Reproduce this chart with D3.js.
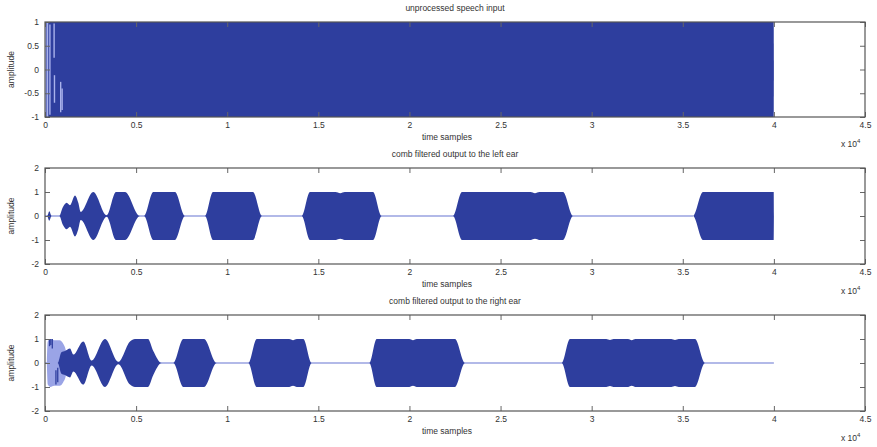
<!DOCTYPE html>
<html>
<head>
<meta charset="utf-8">
<script src="https://cdn.jsdelivr.net/npm/d3@7"></script>
<style>
  body { margin: 0; background: #fff; }
  text { font-family: "Liberation Sans", Arial, sans-serif; fill: #333; }
</style>
</head>
<body>
<div id="chart"></div>
<script>
// Data (time in samples, amplitude envelope)
//= ================================
var xTicks = [0, 5000, 10000, 15000, 20000, 25000, 30000, 35000, 40000, 45000];
var inputTicksY = [-1, -0.5, 0, 0.5, 1];
var earTicksY = [-2, -1, 0, 1, 2];
var titles = ["unprocessed speech input", "comb filtered output to the left ear", "comb filtered output to the right ear"];
var xLabel = "time samples";
var yLabel = "amplitude";

// speech input fills the whole +-1 band until 4e4
var inputEnvelope = [[0, 1], [39990, 1], [40000, 0]];
// lighter streaks near the start of the input: [t, low, high]
var inputStreaks = [[40, -1, 1], [140, -1, 1], [270, -0.95, 0.95], [500, 0.25, 0.97], [520, -0.7, -0.12], [860, -0.9, -0.26], [940, -0.85, -0.4]];

var leftEnvelope = [[0, 0], [120, 0], [236, 0.2], [360, 0], [785, 0], [971, 0.35], [1191, 0.55], [1372, 0.45],
    [1646, 0.85], [1827, 0.55], [1959, 0.17], [2651, 1], [3386, 0.03], [3896, 1], [4390, 1], [5213, 0],
    [5433, 0], [5943, 1], [7134, 1], [7683, 0], [8780, 0], [9220, 1], [11415, 1], [11909, 0],
    [14087, 0], [14543, 1], [15950, 1], [16200, 0.95], [16450, 1], [18000, 1], [18478, 0],
    [22390, 0], [22884, 1], [26650, 1], [26890, 0.95], [27130, 1], [28427, 1], [28976, 0],
    [35561, 0], [36110, 1], [39990, 1], [40000, 0]];

var rightEnvelope = [[0, 0], [700, 0], [900, 0.45], [1098, 0.5], [1372, 0.6], [1553, 0.35], [2102, 0.9],
    [2563, 0.1], [3293, 1], [4023, 0.05], [4665, 0.9], [4939, 1], [5652, 1], [5943, 0.5], [6404, 0],
    [7041, 0], [7590, 1], [8726, 1], [9423, 0], [11157, 0], [11618, 1], [13400, 1], [13610, 0.95],
    [13820, 1], [14175, 1], [14636, 0], [17797, 0], [18203, 1], [19990, 1], [20195, 0.95], [20400, 1],
    [22500, 1], [23049, 0], [28355, 0], [28811, 1], [30800, 1], [31006, 0.96], [31200, 1], [32000, 1],
    [32196, 0.95], [32400, 1], [34370, 1], [34573, 0.96], [34780, 1], [35671, 1], [36220, 0], [40000, 0]];
// pale noisy onset of the right ear signal
var rightNoise = [[100, 0], [150, 0.9], [300, 1], [500, 0.95], [800, 0.95], [1000, 0.8], [1150, 0.5], [1200, 0]];
var rightStreaks = [[250, 0.7, 1], [320, 0.75, 1], [400, 0.6, 1], [600, -0.9, -0.3], [700, -0.8, -0.2]];

// Step 1: Set up our chart
//= ================================
var svgWidth = 877;
var svgHeight = 447;
var plotLeft = 45;
var plotRight = 865;
var panels = [
    { top: 22, height: 95, ticksY: inputTicksY, dom: [-1, 1] },
    { top: 168, height: 96, ticksY: earTicksY, dom: [-2, 2] },
    { top: 315, height: 96, ticksY: earTicksY, dom: [-2, 2] }
];

var dark = "#2e3e9e";
var pale = "#9aa4e6";
var zeroColor = "#6675d2";

var svg = d3.select("#chart")
    .append("svg")
    .attr("width", svgWidth)
    .attr("height", svgHeight);

var xScale = d3.scaleLinear()
    .domain([0, 45000])
    .range([plotLeft, plotRight]);

var fmt = function(d) { return String(d); };

panels.forEach(function(p, i) {
    var yScale = d3.scaleLinear()
        .domain(p.dom)
        .range([p.top + p.height, p.top]);

    var g = svg.append("g").attr("class", "panel");

    var area = d3.area()
        .x(function(d) { return xScale(d[0]); })
        .y0(function(d) { return yScale(-d[1]); })
        .y1(function(d) { return yScale(d[1]); })
        .curve(d3.curveMonotoneX);

    if (i === 0) {
        g.append("path").datum(inputEnvelope)
            .attr("d", area.curve(d3.curveLinear))
            .attr("fill", dark);
        g.selectAll(".streak").data(inputStreaks).enter()
            .append("line")
            .attr("x1", function(d) { return xScale(d[0]); })
            .attr("x2", function(d) { return xScale(d[0]); })
            .attr("y1", function(d) { return yScale(d[1]); })
            .attr("y2", function(d) { return yScale(d[2]); })
            .attr("stroke", "#a9b2ec")
            .attr("stroke-width", 1.4);
    } else {
        var env = i === 1 ? leftEnvelope : rightEnvelope;
        var last = i === 1 ? 35561 : 40000;
        // thin zero line between bursts
        g.append("line")
            .attr("x1", xScale(0)).attr("x2", xScale(last))
            .attr("y1", yScale(0)).attr("y2", yScale(0))
            .attr("stroke", zeroColor)
            .attr("stroke-width", 1.2);
        if (i === 2) {
            g.append("path").datum(rightNoise)
                .attr("d", area)
                .attr("fill", pale);
        }
        g.append("path").datum(env)
            .attr("d", area)
            .attr("fill", dark);
        if (i === 2) {
            g.selectAll(".streak").data(rightStreaks).enter()
                .append("line")
                .attr("x1", function(d) { return xScale(d[0]); })
                .attr("x2", function(d) { return xScale(d[0]); })
                .attr("y1", function(d) { return yScale(d[1]); })
                .attr("y2", function(d) { return yScale(d[2]); })
                .attr("stroke", dark)
                .attr("stroke-width", 1.3);
        }
    }

    // axes, ticks pointing inward on all four sides
    var bottom = g.append("g")
        .attr("transform", "translate(0," + (p.top + p.height) + ")")
        .call(d3.axisBottom(xScale).tickValues(xTicks).tickSize(-5).tickPadding(5)
            .tickFormat(function(d) { return fmt(d / 10000); }));
    var top = g.append("g")
        .attr("transform", "translate(0," + p.top + ")")
        .call(d3.axisTop(xScale).tickValues(xTicks).tickSize(-5).tickFormat(""));
    var left = g.append("g")
        .attr("transform", "translate(" + plotLeft + ",0)")
        .call(d3.axisLeft(yScale).tickValues(p.ticksY).tickSize(-5).tickPadding(6).tickFormat(fmt));
    var right = g.append("g")
        .attr("transform", "translate(" + plotRight + ",0)")
        .call(d3.axisRight(yScale).tickValues(p.ticksY).tickSize(-5).tickFormat(""));

    [bottom, top, left, right].forEach(function(ax) {
        ax.select(".domain").remove();
        ax.selectAll("line").attr("stroke", "#666");
        ax.selectAll("text").attr("font-size", 8.5).attr("fill", "#333");
    });

    g.append("rect")
        .attr("x", plotLeft)
        .attr("y", p.top)
        .attr("width", plotRight - plotLeft)
        .attr("height", p.height)
        .attr("fill", "none")
        .attr("stroke", "#555")
        .attr("stroke-width", 1.2);

    // title
    g.append("text")
        .attr("x", (plotLeft + plotRight) / 2)
        .attr("y", p.top - 11)
        .attr("text-anchor", "middle")
        .attr("font-size", 8.5)
        .text(titles[i]);

    // x label
    g.append("text")
        .attr("x", 447)
        .attr("y", p.top + p.height + 23)
        .attr("text-anchor", "middle")
        .attr("font-size", 8.5)
        .text(xLabel);

    // exponent
    var ex = g.append("text")
        .attr("x", 841)
        .attr("y", p.top + p.height + 30)
        .attr("font-size", 8.5)
        .text("x 10");
    ex.append("tspan")
        .attr("dy", -4)
        .attr("font-size", 6)
        .text("4");

    // y label
    g.append("text")
        .attr("transform", "translate(14," + (p.top + p.height / 2) + ") rotate(-90)")
        .attr("text-anchor", "middle")
        .attr("font-size", 8.5)
        .text(yLabel);
});
</script>
</body>
</html>
